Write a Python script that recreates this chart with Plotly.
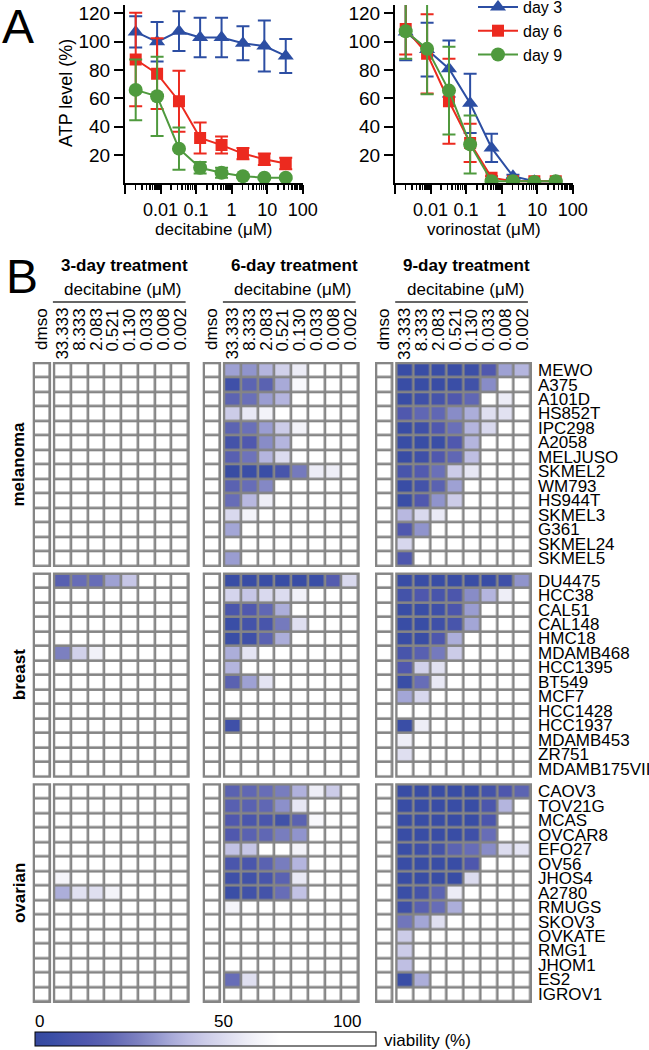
import plotly.graph_objects as go

W, H = 649, 1050
FONT = "Liberation Sans, Arial, sans-serif"

# ---------------- Panel A data ----------------
conc_A = [0.002, 0.008, 0.033, 0.130, 0.521, 2.083, 8.333, 33.333]
series_names = ["day 3", "day 6", "day 9"]

dec_day3 = [107, 100, 107.5, 103, 103, 99, 97, 90]
dec_day3_err = [11, 14, 14, 14, 14, 12, 18, 12]
dec_day6 = [87.5, 77.5, 58, 32, 27, 21, 17, 14]
dec_day6_err = [33, 25, 21.5, 11, 6, 4, 4, 4]
dec_day9 = [66, 61.5, 24.5, 11, 7.5, 5, 4, 4]
dec_day9_err = [21.5, 28, 15, 4, 3.5, 1, 1, 1]

vor_day3 = [107, 94.5, 81, 56.5, 25, 5, 1.5, 1.5]
vor_day3_err = [20, 19, 20, 21, 10, 1, 0, 0]
vor_day6 = [109, 91.5, 58, 28.5, 4, 1.5, 1.5, 1.5]
vor_day6_err = [18, 28, 30, 13.5, 1, 0, 0, 0]
vor_day9 = [107.5, 95, 65.5, 27.5, 1.5, 1.5, 1, 1.5]
vor_day9_err = [19.5, 32, 31, 20.5, 0, 0, 0, 0]

# ---------------- Panel B data ----------------
col_labels = ["dmso", "33.333", "8.333", "2.083", "0.521", "0.130", "0.033", "0.008", "0.002"]
panel_titles = ["3-day treatment", "6-day treatment", "9-day treatment"]
drug_label = "decitabine (\u03bcM)"
tissues = ["melanoma", "breast", "ovarian"]

melanoma_lines = ["MEWO", "A375", "A101D", "HS852T", "IPC298", "A2058", "MELJUSO",
                  "SKMEL2", "WM793", "HS944T", "SKMEL3", "G361", "SKMEL24", "SKMEL5"]
breast_lines = ["DU4475", "HCC38", "CAL51", "CAL148", "HMC18", "MDAMB468", "HCC1395",
                "BT549", "MCF7", "HCC1428", "HCC1937", "MDAMB453", "ZR751", "MDAMB175VII"]
ovarian_lines = ["CAOV3", "TOV21G", "MCAS", "OVCAR8", "EFO27", "OV56", "JHOS4", "A2780",
                 "RMUGS", "SKOV3", "OVKATE", "RMG1", "JHOM1", "ES2", "IGROV1"]

# viability (%) per row: dmso, 33.333 ... 0.002
d3_melanoma = [
    [100, 100, 100, 100, 100, 100, 100, 100, 100],
    [100, 100, 100, 100, 100, 100, 100, 100, 100],
    [100, 100, 100, 100, 100, 100, 100, 100, 100],
    [100, 100, 100, 100, 100, 100, 100, 100, 100],
    [100, 100, 100, 100, 100, 100, 100, 100, 100],
    [100, 100, 100, 100, 100, 100, 100, 100, 100],
    [100, 100, 100, 100, 100, 100, 100, 100, 100],
    [100, 100, 100, 100, 100, 100, 100, 100, 100],
    [100, 100, 100, 100, 100, 100, 100, 100, 100],
    [100, 100, 100, 100, 100, 100, 100, 100, 100],
    [100, 100, 100, 100, 100, 100, 100, 100, 100],
    [100, 100, 100, 100, 100, 100, 100, 100, 100],
    [100, 100, 100, 100, 100, 100, 100, 100, 100],
    [100, 100, 100, 100, 100, 100, 100, 100, 100],
]
d3_breast = [
    [100, 19, 24, 24, 38, 48, 100, 100, 100],
    [100, 100, 100, 100, 100, 100, 100, 100, 100],
    [100, 100, 100, 100, 100, 100, 100, 100, 100],
    [100, 100, 100, 100, 100, 100, 100, 100, 100],
    [100, 100, 100, 100, 100, 100, 100, 100, 100],
    [100, 30, 52, 64, 100, 100, 100, 100, 100],
    [100, 100, 100, 100, 100, 100, 100, 100, 100],
    [100, 100, 100, 100, 100, 100, 100, 100, 100],
    [100, 100, 100, 100, 100, 100, 100, 100, 100],
    [100, 100, 100, 100, 100, 100, 100, 100, 100],
    [100, 100, 100, 100, 100, 100, 100, 100, 100],
    [100, 100, 100, 100, 100, 100, 100, 100, 100],
    [100, 100, 100, 100, 100, 100, 100, 100, 100],
    [100, 100, 100, 100, 100, 100, 100, 100, 100],
]
d3_ovarian = [
    [100, 100, 100, 100, 100, 100, 100, 100, 100],
    [100, 100, 100, 100, 100, 100, 100, 100, 100],
    [100, 100, 100, 100, 100, 100, 100, 100, 100],
    [100, 100, 100, 100, 100, 100, 100, 100, 100],
    [100, 100, 100, 100, 100, 100, 100, 100, 100],
    [100, 100, 100, 100, 100, 100, 100, 100, 100],
    [100, 66, 100, 100, 100, 100, 100, 100, 100],
    [100, 41, 58, 57, 65, 100, 100, 100, 100],
    [100, 100, 100, 100, 100, 100, 100, 100, 100],
    [100, 100, 100, 100, 100, 100, 100, 100, 100],
    [100, 100, 100, 100, 100, 100, 100, 100, 100],
    [100, 100, 100, 100, 100, 100, 100, 100, 100],
    [100, 100, 100, 100, 100, 100, 100, 100, 100],
    [100, 100, 100, 100, 100, 100, 100, 100, 100],
    [100, 100, 100, 100, 100, 100, 100, 100, 100],
]

d6_melanoma = [
    [100, 38, 35, 43, 52, 62, 100, 100, 100],
    [100, 7, 21, 20, 40, 68, 100, 100, 100],
    [100, 21, 25, 37, 43, 100, 100, 100, 100],
    [100, 50, 61, 65, 100, 100, 100, 100, 100],
    [100, 21, 25, 37, 50, 65, 100, 100, 100],
    [100, 9, 15, 33, 43, 100, 100, 100, 100],
    [100, 19, 26, 43, 56, 100, 100, 100, 100],
    [100, 3, 5, 5, 11, 28, 62, 63, 100],
    [100, 20, 24, 32, 100, 100, 100, 100, 100],
    [100, 24, 44, 63, 100, 100, 100, 100, 100],
    [100, 55, 65, 100, 100, 100, 100, 100, 100],
    [100, 39, 100, 100, 100, 100, 100, 100, 100],
    [100, 100, 100, 100, 100, 100, 100, 100, 100],
    [100, 37, 100, 100, 100, 100, 100, 100, 100],
]
d6_breast = [
    [100, 4, 4, 4, 4, 4, 5, 17, 55],
    [100, 53, 48, 55, 56, 64, 100, 100, 100],
    [100, 12, 15, 22, 41, 100, 100, 100, 100],
    [100, 5, 9, 11, 28, 57, 100, 100, 100],
    [100, 5, 7, 20, 41, 100, 100, 100, 100],
    [100, 41, 59, 100, 100, 100, 100, 100, 100],
    [100, 43, 100, 100, 100, 100, 100, 100, 100],
    [100, 20, 38, 59, 100, 100, 100, 100, 100],
    [100, 100, 100, 100, 100, 100, 100, 100, 100],
    [100, 100, 100, 100, 100, 100, 100, 100, 100],
    [100, 7, 100, 100, 100, 100, 100, 100, 100],
    [100, 100, 100, 100, 100, 100, 100, 100, 100],
    [100, 100, 100, 100, 100, 100, 100, 100, 100],
    [100, 100, 100, 100, 100, 100, 100, 100, 100],
]
d6_ovarian = [
    [100, 20, 22, 24, 29, 42, 63, 50, 100],
    [100, 19, 20, 22, 34, 60, 100, 100, 100],
    [100, 15, 12, 12, 8, 20, 68, 100, 100],
    [100, 15, 20, 22, 29, 35, 100, 100, 100],
    [100, 47, 48, 100, 100, 65, 100, 100, 100],
    [100, 12, 12, 20, 29, 43, 100, 100, 100],
    [100, 7, 8, 11, 20, 61, 100, 100, 100],
    [100, 5, 8, 9, 24, 47, 100, 100, 100],
    [100, 66, 100, 100, 100, 100, 100, 100, 100],
    [100, 100, 100, 100, 100, 100, 100, 100, 100],
    [100, 100, 100, 100, 100, 100, 100, 100, 100],
    [100, 100, 100, 100, 100, 100, 100, 100, 100],
    [100, 100, 100, 100, 100, 100, 100, 100, 100],
    [100, 24, 57, 100, 100, 100, 100, 100, 100],
    [100, 100, 100, 100, 100, 100, 100, 100, 100],
]

d9_melanoma = [
    [100, 4, 4, 5, 5, 6, 15, 38, 43],
    [100, 4, 4, 4, 5, 8, 33, 100, 100],
    [100, 4, 7, 10, 15, 22, 100, 62, 100],
    [100, 15, 22, 22, 33, 41, 57, 58, 100],
    [100, 4, 7, 15, 25, 43, 55, 100, 100],
    [100, 4, 4, 5, 15, 43, 100, 100, 100],
    [100, 4, 7, 15, 22, 46, 100, 100, 100],
    [100, 11, 16, 25, 50, 60, 100, 100, 100],
    [100, 4, 9, 20, 38, 100, 100, 100, 100],
    [100, 5, 15, 35, 50, 100, 100, 100, 100],
    [100, 44, 55, 61, 100, 100, 100, 100, 100],
    [100, 15, 35, 100, 100, 100, 100, 100, 100],
    [100, 54, 100, 100, 100, 100, 100, 100, 100],
    [100, 14, 100, 100, 100, 100, 100, 100, 100],
]
d9_breast = [
    [100, 4, 4, 4, 4, 4, 4, 7, 35],
    [100, 9, 14, 11, 13, 33, 43, 63, 100],
    [100, 4, 5, 7, 13, 37, 100, 100, 100],
    [100, 4, 4, 7, 11, 39, 100, 100, 100],
    [100, 4, 4, 14, 41, 100, 100, 100, 100],
    [100, 11, 19, 28, 50, 100, 100, 100, 100],
    [100, 15, 52, 58, 100, 100, 100, 100, 100],
    [100, 5, 24, 61, 100, 100, 100, 100, 100],
    [100, 39, 54, 100, 100, 100, 100, 100, 100],
    [100, 100, 100, 100, 100, 100, 100, 100, 100],
    [100, 5, 63, 100, 100, 100, 100, 100, 100],
    [100, 63, 100, 100, 100, 100, 100, 100, 100],
    [100, 57, 100, 100, 100, 100, 100, 100, 100],
    [100, 100, 100, 100, 100, 100, 100, 100, 100],
]
d9_ovarian = [
    [100, 4, 4, 4, 4, 4, 9, 14, 21],
    [100, 4, 4, 4, 4, 4, 13, 43, 100],
    [100, 4, 4, 4, 4, 4, 13, 100, 100],
    [100, 4, 4, 4, 4, 7, 24, 100, 100],
    [100, 5, 7, 9, 21, 24, 33, 56, 59],
    [100, 4, 4, 4, 4, 14, 100, 100, 100],
    [100, 4, 4, 4, 4, 56, 100, 100, 100],
    [100, 5, 9, 21, 62, 100, 100, 100, 100],
    [100, 7, 19, 24, 41, 100, 100, 100, 100],
    [100, 27, 39, 57, 100, 100, 100, 100, 100],
    [100, 50, 100, 100, 100, 100, 100, 100, 100],
    [100, 50, 100, 100, 100, 100, 100, 100, 100],
    [100, 46, 100, 100, 100, 100, 100, 100, 100],
    [100, 5, 41, 100, 100, 100, 100, 100, 100],
    [100, 100, 100, 100, 100, 100, 100, 100, 100],
]

cbar_ticks = ["0", "50", "100"]

# ---------------- styling / geometry ----------------
colors = ["#2c4ea3", "#ec2a1f", "#4f9a3e"]
symbols = ["triangle-up", "square", "circle"]
msizes = [14, 12, 14]
GRAY = "#858585"
G = 2.6  # grid line thickness (px)

colorscale = [
    [0.00, "#36499f"], [0.05, "#3a4ea6"], [0.10, "#4654aa"], [0.15, "#5058ae"],
    [0.21, "#5c64b2"], [0.25, "#6a70b8"], [0.30, "#7c80c0"], [0.35, "#9094cc"],
    [0.40, "#a8aad8"], [0.45, "#bcbce2"], [0.50, "#cccce8"], [0.56, "#dcdcef"],
    [0.62, "#ececf6"], [0.66, "#f5f5fa"], [0.72, "#ffffff"], [1.00, "#ffffff"],
]


def px_x(x):
    return x / W


def px_y(y):
    return 1 - y / H


def dom_x(l, r):
    return [l / W, r / W]


def dom_y(t, b):
    return [1 - b / H, 1 - t / H]


def txt(text, x, y, size=17, xref="paper", yref="paper", xanchor="center",
        yanchor="middle", angle=0):
    return dict(text=text, x=x, y=y, xref=xref, yref=yref, xanchor=xanchor,
                yanchor=yanchor, textangle=angle, showarrow=False,
                font=dict(size=size, family=FONT, color="black"))


fig = go.Figure()
layout_axes = {}
annotations = []
shapes = []

# ---------------- Panel A ----------------
minor_vals = [k * 10 ** e for e in range(-3, 2) for k in range(2, 10)]
panelA = [
    ("x", "y", "xaxis", "yaxis", [dec_day3, dec_day6, dec_day9], [dec_day3_err, dec_day6_err, dec_day9_err], (125, 302.7), False),
    ("x2", "y2", "xaxis2", "yaxis2", [vor_day3, vor_day6, vor_day9], [vor_day3_err, vor_day6_err, vor_day9_err], (395, 572.7), True),
]
for xa, ya, xk, yk, vals, errs, (l, r), leg in panelA:
    for i in range(3):
        fig.add_trace(go.Scatter(
            x=conc_A, y=vals[i], name=series_names[i], mode="lines+markers",
            line=dict(color=colors[i], width=2),
            marker=dict(symbol=symbols[i], size=msizes[i], color=colors[i], line=dict(width=0)),
            error_y=dict(type="data", array=errs[i], color=colors[i], thickness=2, width=6.5),
            xaxis=xa, yaxis=ya, showlegend=leg, hoverinfo="skip",
        ))
    layout_axes[xk] = dict(
        domain=dom_x(l, r), anchor=ya, type="log", range=[-3, 2],
        tickvals=[0.001, 0.01, 0.1, 1, 10, 100], ticktext=["", "0.01", "0.1", "1", "10", "100"],
        ticks="outside", ticklen=9, tickwidth=2, tickcolor="black",
        showline=True, linewidth=2, linecolor="black", showgrid=False, zeroline=False,
        tickfont=dict(size=18, color="black", family=FONT),
        minor=dict(tickvals=minor_vals, ticks="outside", ticklen=5, tickwidth=1.5,
                   tickcolor="black", showgrid=False),
        fixedrange=True,
    )
    layout_axes[yk] = dict(
        domain=dom_y(5, 183.3), anchor=xa, range=[0, 126],
        tickvals=[20, 40, 60, 80, 100, 120],
        ticks="outside", ticklen=9, tickwidth=2, tickcolor="black",
        showline=True, linewidth=2, linecolor="black", showgrid=False, zeroline=False,
        tickfont=dict(size=19, color="black", family=FONT), fixedrange=True,
    )

annotations += [
    txt("decitabine (\u03bcM)", px_x(214), px_y(229)),
    txt("vorinostat (\u03bcM)", px_x(484), px_y(229)),
    txt("ATP level (%)", px_x(66), px_y(93), size=18, angle=-90),
    txt("A", px_x(18), px_y(26), size=48),
    txt("B", px_x(22), px_y(276), size=48),
]

# ---------------- Panel B ----------------
panel_left = [32.7, 202.7, 375.0]
dmso_w, dc_gap, conc_w = 18.4, 1.8, 136.8
group_tops = [362.0, 572.6, 783.2]
rh = 14.65
line_names = [melanoma_lines, breast_lines, ovarian_lines]
panel_data = [
    [d3_melanoma, d3_breast, d3_ovarian],
    [d6_melanoma, d6_breast, d6_ovarian],
    [d9_melanoma, d9_breast, d9_ovarian],
]

ax = 3
for p in range(3):
    for g in range(3):
        data = panel_data[p][g]
        n = len(data)
        top = group_tops[g]
        bottom = top + n * rh
        for part in ("dmso", "conc"):
            if part == "dmso":
                l = panel_left[p]
                r = l + dmso_w
                z = [row[:1] for row in data]
                labels = col_labels[:1]
            else:
                l = panel_left[p] + dmso_w + dc_gap
                r = l + conc_w
                z = [row[1:] for row in data]
                labels = col_labels[1:]
            ncol = len(labels)
            ux = (r - l - G) / ncol
            dx = G / (2 * ux)
            uy = (bottom - top - G) / n
            dy = G / (2 * uy)
            fig.add_trace(go.Heatmap(
                z=z, x=list(range(ncol)), y=list(range(n)), coloraxis="coloraxis",
                xgap=G, ygap=G, xaxis=f"x{ax}", yaxis=f"y{ax}", hoverinfo="skip",
            ))
            layout_axes[f"xaxis{ax}"] = dict(domain=dom_x(l, r), range=[-0.5 - dx, ncol - 0.5 + dx],
                                             visible=False, anchor=f"y{ax}", fixedrange=True)
            layout_axes[f"yaxis{ax}"] = dict(domain=dom_y(top, bottom), range=[n - 0.5 + dy, -0.5 - dy],
                                             visible=False, anchor=f"x{ax}", fixedrange=True)
            shapes.append(dict(type="rect", xref=f"x{ax} domain", yref=f"y{ax} domain",
                               x0=0, x1=1, y0=0, y1=1, fillcolor=GRAY, line=dict(width=0),
                               layer="below"))
            if g == 0:
                for j, lab in enumerate(labels):
                    annotations.append(txt(lab, j, px_y(306), xref=f"x{ax}",
                                           yanchor="top", angle=-90))
                if part == "conc":
                    annotations.append(txt("<b>" + panel_titles[p] + "</b>", 0.52, px_y(265),
                                           xref=f"x{ax} domain"))
                    annotations.append(txt(drug_label, 0.515, px_y(289), xref=f"x{ax} domain"))
                    shapes.append(dict(type="line", xref=f"x{ax} domain", yref="paper",
                                       x0=0.0, x1=0.97, y0=px_y(302), y1=px_y(302),
                                       line=dict(color="#333333", width=1.5)))
            if p == 2 and part == "conc":
                for i, name in enumerate(line_names[g]):
                    annotations.append(txt(name, px_x(535.5), i, yref=f"y{ax}", xanchor="left"))
            if p == 0 and part == "dmso":
                annotations.append(txt("<b>" + tissues[g] + "</b>", px_x(19), 0.5,
                                       yref=f"y{ax} domain", angle=-90))
            ax += 1

# colorbar labels
for lab, xp in zip(cbar_ticks, [39, 223, 347]):
    annotations.append(txt(lab, px_x(xp), px_y(1021)))
annotations.append(txt("viability (%)", px_x(382), px_y(1040), xanchor="left"))

fig.update_layout(
    width=W, height=H,
    margin=dict(l=0, r=0, t=0, b=0, autoexpand=False),
    paper_bgcolor="white", plot_bgcolor="white",
    font=dict(family=FONT, size=17, color="black"),
    showlegend=True,
    legend=dict(x=px_x(473), y=px_y(-10), xanchor="left", yanchor="top",
                bgcolor="rgba(0,0,0,0)", font=dict(size=16, family=FONT, color="black"),
                tracegroupgap=0, itemwidth=40),
    coloraxis=dict(
        colorscale=colorscale, cmin=0, cmax=100,
        colorbar=dict(orientation="h", x=px_x(205.5), xanchor="center",
                      y=px_y(1047), yanchor="bottom", len=341, lenmode="pixels",
                      thickness=14, thicknessmode="pixels", outlinewidth=1,
                      outlinecolor="black", showticklabels=False, ticks="",
                      xpad=0, ypad=0),
    ),
    annotations=annotations,
    shapes=shapes,
    **layout_axes,
)

fig.write_html("out.html", config={"displayModeBar": False, "staticPlot": True},
               post_script="document.body.style.margin='0px';")
